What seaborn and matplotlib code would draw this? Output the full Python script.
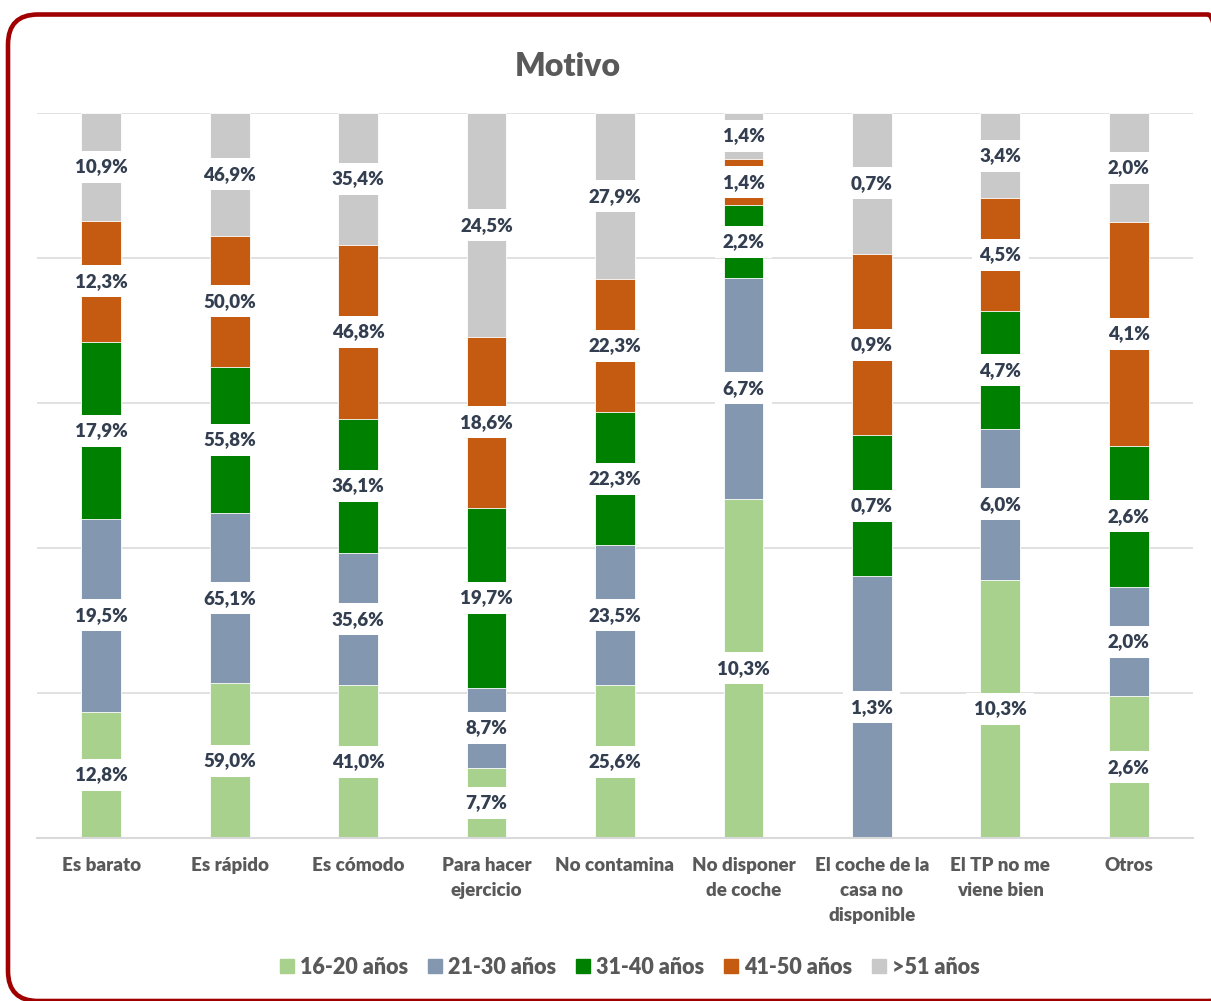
import numpy as np
import pandas as pd
import matplotlib.pyplot as plt
import seaborn as sns
from matplotlib.patches import FancyBboxPatch, Patch

# ------------------------------------------------------------------
# Datos (porcentaje de cada grupo de edad que cita el motivo)
# ------------------------------------------------------------------
categorias = ["Es barato", "Es rápido", "Es cómodo", "Para hacer\nejercicio",
              "No contamina", "No disponer\nde coche",
              "El coche de la\ncasa no\ndisponible", "El TP no me\nviene bien", "Otros"]
grupos = ["16-20 años", "21-30 años", "31-40 años", "41-50 años", ">51 años"]

v_16_20 = [12.8, 59.0, 41.0, 7.7, 25.6, 10.3, 0.0, 10.3, 2.6]
v_21_30 = [19.5, 65.1, 35.6, 8.7, 23.5, 6.7, 1.3, 6.0, 2.0]
v_31_40 = [17.9, 55.8, 36.1, 19.7, 22.3, 2.2, 0.7, 4.7, 2.6]
v_41_50 = [12.3, 50.0, 46.8, 18.6, 22.3, 1.4, 0.9, 4.5, 4.1]
v_51 = [10.9, 46.9, 35.4, 24.5, 27.9, 1.4, 0.7, 3.4, 2.0]

colores = ["#A9D18E", "#8497B0", "#008000", "#C55A11", "#C9C9C9"]

sns.set_style("white")
plt.rcParams['font.family'] = ['Lato', 'DejaVu Sans']

# barras apiladas al 100%
valores = np.array([v_16_20, v_21_30, v_31_40, v_41_50, v_51])
cuota = valores / valores.sum(axis=0) * 100
acum = np.cumsum(cuota, axis=0)

W, H = 1211, 1001
fig = plt.figure(figsize=(W / 100, H / 100), dpi=100)
ax = fig.add_axes([37 / W, 1 - 838 / H, (1193 - 37) / W, (838 - 113) / H])

# se dibuja del acumulado mayor al menor para que se vean los tramos
for k in reversed(range(len(grupos))):
    df = pd.DataFrame({"motivo": categorias, "acum": acum[k]})
    sns.barplot(data=df, x="motivo", y="acum", order=categorias, color=colores[k],
                saturation=1, width=0.31, errorbar=None, edgecolor="white",
                linewidth=0.6, ax=ax)

# etiquetas con fondo blanco
for k in range(len(grupos)):
    for i in range(len(categorias)):
        if valores[k, i] <= 0:
            continue
        y = acum[k, i] - cuota[k, i] / 2
        txt = f"{valores[k, i]:.1f}%".replace(".", ",")
        ax.text(i, y, txt, ha="center", va="center", fontsize=13.5, fontweight="heavy",
                color="#333F50", zorder=5,
                bbox=dict(boxstyle="square,pad=0.4", fc="white", ec="none"))

ax.set_ylim(0, 100)
ax.set_xlim(-0.5, len(categorias) - 0.5)
ax.set_yticks([0, 20, 40, 60, 80, 100])
ax.set_axisbelow(True)
ax.yaxis.grid(True, color="#D9D9D9", linewidth=1.1)
ax.tick_params(axis="y", left=False, labelleft=False)
ax.tick_params(axis="x", length=0, pad=14)
for lab in ax.get_xticklabels():
    lab.set_fontsize(13.5)
    lab.set_fontweight("heavy")
    lab.set_color("#595959")
    lab.set_linespacing(1.55)
    lab.set_verticalalignment("top")
ax.set_xlabel("")
ax.set_ylabel("")
for s in ["left", "right", "top"]:
    ax.spines[s].set_visible(False)
ax.spines["bottom"].set_color("#D9D9D9")
ax.spines["bottom"].set_linewidth(1.5)

fig.text(568 / W, 1 - 66 / H, "Motivo", ha="center", va="center", fontsize=23,
         fontweight="heavy", color="#595959")

handles = [Patch(color=c) for c in colores]
fig.legend(handles, grupos, loc="center", bbox_to_anchor=(630 / W, 1 - 967 / H), ncol=5,
           frameon=False, prop={"weight": "heavy", "size": 15.5}, labelcolor="#595959",
           handlelength=0.65, handleheight=0.65, handletextpad=0.3, columnspacing=0.9)

# marco redondeado (se sale por la derecha y por abajo)
marco = FancyBboxPatch((0.08, 0.0), 12.3, 9.865, boxstyle="round,pad=0,rounding_size=0.3",
                       transform=fig.dpi_scale_trans, fc="none", ec="#A00000", lw=3.3)
fig.add_artist(marco)

fig.savefig("out.png", dpi=100)
